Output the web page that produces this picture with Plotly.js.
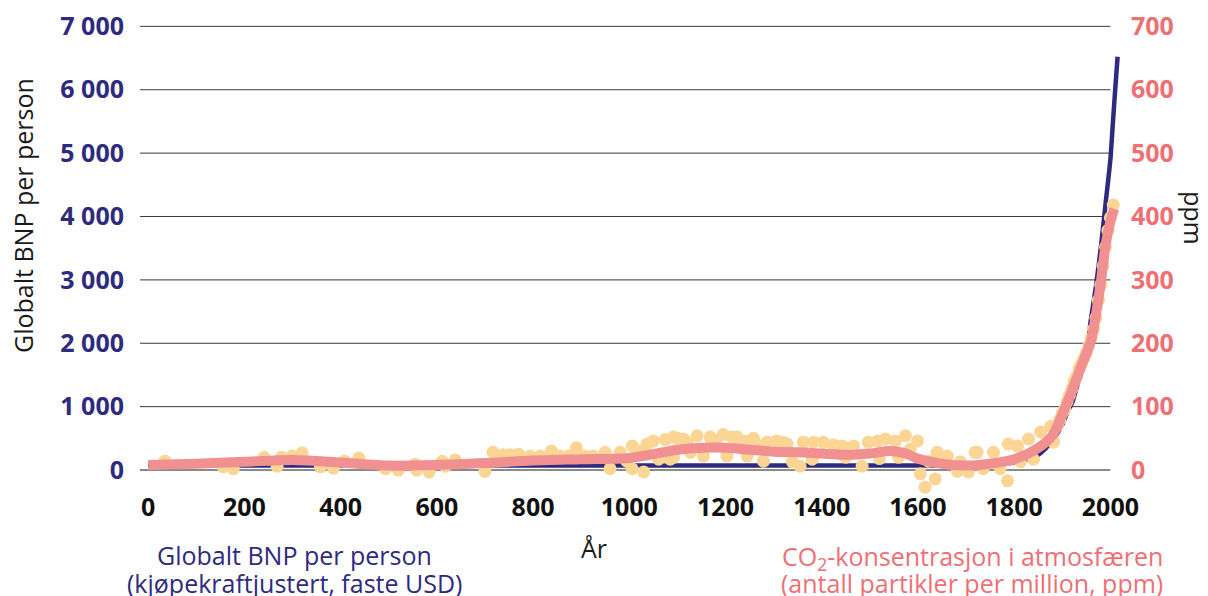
<!DOCTYPE html>
<html>
<head>
<meta charset="utf-8">
<script src="https://cdn.plot.ly/plotly-3.0.1.min.js"></script>
<style>html,body{margin:0;padding:0;background:#fff;}#chart{width:1208px;height:596px;}</style>
</head>
<body>
<div id="chart"></div>
<script>
// GDP per capita (left axis)
const gdpYears = [0, 500, 1000, 1500, 1600, 1700, 1750, 1800, 1820, 1850, 1870, 1890, 1900, 1913, 1920, 1930, 1940, 1950, 1960, 1970, 1980, 1990, 2000, 2005, 2010, 2015];
const gdpValues = [72, 72, 72, 72, 72, 72, 90, 120, 150, 240, 380, 580, 720, 950, 1050, 1300, 1600, 1850, 2400, 2900, 3500, 4200, 4900, 5450, 6000, 6520];

// CO2 smoothed (right axis, ppm)
const co2Years = [0, 100, 200, 300, 400, 500, 600, 700, 800, 900, 1000, 1050, 1100, 1150, 1200, 1250, 1300, 1350, 1400, 1450, 1500, 1540, 1570, 1600, 1650, 1700, 1750, 1800, 1850, 1880, 1900, 1920, 1940, 1960, 1970, 1980, 1990, 2000, 2008];
const co2Values = [8, 10, 13, 16, 12, 7, 8, 11, 15, 17, 19, 25, 32, 35, 35, 32, 29, 28, 26, 24, 26, 30, 27, 18, 10, 7, 10, 17, 35, 55, 88, 125, 165, 205, 245, 295, 355, 392, 412];

// CO2 measured points (right axis, ppm)
const dotYears = [35,156,177,241,268,277,299,320,358,385,408,438,493,520,555,558,584,611,618,638,700,
  717,738,753,770,794,815,838,856,874,890,908,925,950,960,981,995,1006,1006,1020,1030,1037,1050,1061,1069,1075,1085,1092,1092,1100,1113,1120,1127,1141,1154,1168,1180,1195,1203,1214,1224,1230,1241,1245,1258,1265,1279,1287,1306,1320,1328,1339,1355,1362,1380,1383,
  1403,1424,1443,1450,1466,1484,1497,1516,1520,1532,1553,1560,1574,1584,1599,1605,1615,1622,1636,1640,1661,1682,1688,1705,1719,1723,1736,1757,1771,1786,1788,1807,1813,1830,1840,1855,1876,1882,
  1890,1895,1900,1905,1910,1915,1920,1925,1930,1935,1940,1945,1950,1955,1960,1965,1970,1975,1980,1985,1990,1995,2000,2006];
const dotPpm = [14,5,2,20,6,20,22,27,5,3,14,19,2,0,9,0,-3,14,6,16,-2,
  28,24,24,25,22,22,30,22,22,35,22,22,28,2,28,14,38,2,30,-3,41,46,17,22,48,17,52,20,50,49,44,28,54,22,52,47,56,22,52,52,45,46,22,50,40,14,44,46,44,41,13,6,44,17,44,
  44,40,38,20,38,6,44,46,18,49,46,20,54,33,46,-6,-27,14,-14,28,22,-2,13,-3,28,28,2,28,2,-17,41,38,13,49,17,60,69,44,
  70,80,90,96,108,118,128,140,148,160,168,176,185,196,208,222,240,268,292,322,352,378,398,418];

const xTicks = [0, 200, 400, 600, 800, 1000, 1200, 1400, 1600, 1800, 2000];
const gdpTicks = [0, 1000, 2000, 3000, 4000, 5000, 6000, 7000];
const gdpTickText = ['0', '1 000', '2 000', '3 000', '4 000', '5 000', '6 000', '7 000'];
const ppmTicks = [0, 100, 200, 300, 400, 500, 600, 700];

const PURPLE = '#2e2a80';
const PINK_TXT = '#ef6f74';
const PINK_LINE = '#f19090';
const DOT = '#fbd594';
const FONT = 'Open Sans, Noto Sans, sans-serif';

const W = 1208, H = 596;
const M = {l: 140, r: 88, t: 20, b: 106};
const pw = W - M.l - M.r, ph = H - M.t - M.b;
const px = x => (x - M.l) / pw;
const py = y => (H - M.b - y) / ph;

const traces = [
  {x: dotYears, y: dotPpm, yaxis: 'y2', type: 'scatter', mode: 'markers',
   marker: {color: DOT, size: 13, line: {width: 0}}, hoverinfo: 'skip', cliponaxis: false},
  {x: co2Years, y: co2Values, yaxis: 'y2', type: 'scatter', mode: 'lines',
   line: {color: PINK_LINE, width: 10, shape: 'spline', smoothing: 0.8}, cliponaxis: false},
  {x: gdpYears, y: gdpValues, type: 'scatter', mode: 'lines',
   line: {color: PURPLE, width: 4.5, shape: 'spline', smoothing: 0.6}, cliponaxis: false}
];

const shapes = gdpTicks.map(v => ({
  type: 'line', xref: 'x', yref: 'y', x0: -17, x1: 2000, y0: v, y1: v,
  line: {color: v === 0 ? '#8a8a8a' : '#3a3a3a', width: v === 0 ? 2 : 1}, layer: 'below'
}));

const annotations = [
  {text: 'Globalt BNP per person', x: px(23), y: py(216), textangle: -90,
   font: {size: 25, color: '#1a1a1a'}},
  {text: 'ppm', x: px(1194), y: py(218), textangle: 90,
   font: {size: 25, color: '#1a1a1a'}},
  {text: 'År', x: px(594), y: py(548), font: {size: 25, color: '#1a1a1a'}},
  {text: 'Globalt BNP per person', x: px(294), y: py(555), font: {size: 25, color: PURPLE}},
  {text: '(kjøpekraftjustert, faste USD)', x: px(294), y: py(583), font: {size: 25, color: PURPLE}},
  {text: 'CO<sub>2</sub>-konsentrasjon i atmosfæren', x: px(972), y: py(557), font: {size: 25, color: PINK_TXT}},
  {text: '(antall partikler per million, ppm)', x: px(972), y: py(583), font: {size: 25, color: PINK_TXT}}
].map(a => Object.assign({xref: 'paper', yref: 'paper', showarrow: false, xanchor: 'center', yanchor: 'middle'}, a));

const layout = {
  width: W, height: H,
  margin: M,
  paper_bgcolor: '#fff', plot_bgcolor: '#fff',
  font: {family: FONT},
  showlegend: false,
  xaxis: {range: [-17, 2020], tickvals: xTicks, ticktext: xTicks.map(String),
    showgrid: false, zeroline: false, showline: false, ticks: '',
    tickfont: {size: 25, color: '#111', weight: 'bold', family: FONT}, ticklabelstandoff: 0},
  yaxis: {range: [-315, 7100], tickvals: gdpTicks, ticktext: gdpTickText,
    showgrid: false, zeroline: false, showline: false, ticks: '',
    tickfont: {size: 25, color: PURPLE, weight: 'bold', family: FONT}, ticklabelstandoff: 15},
  yaxis2: {range: [-31.5, 710], overlaying: 'y', side: 'right', tickvals: ppmTicks,
    showgrid: false, zeroline: false, showline: false, ticks: '',
    tickfont: {size: 25, color: PINK_TXT, weight: 'bold', family: FONT}, ticklabelstandoff: 10},
  shapes: shapes,
  annotations: annotations
};

Plotly.newPlot('chart', traces, layout, {displayModeBar: false, staticPlot: true});
</script>
</body>
</html>
